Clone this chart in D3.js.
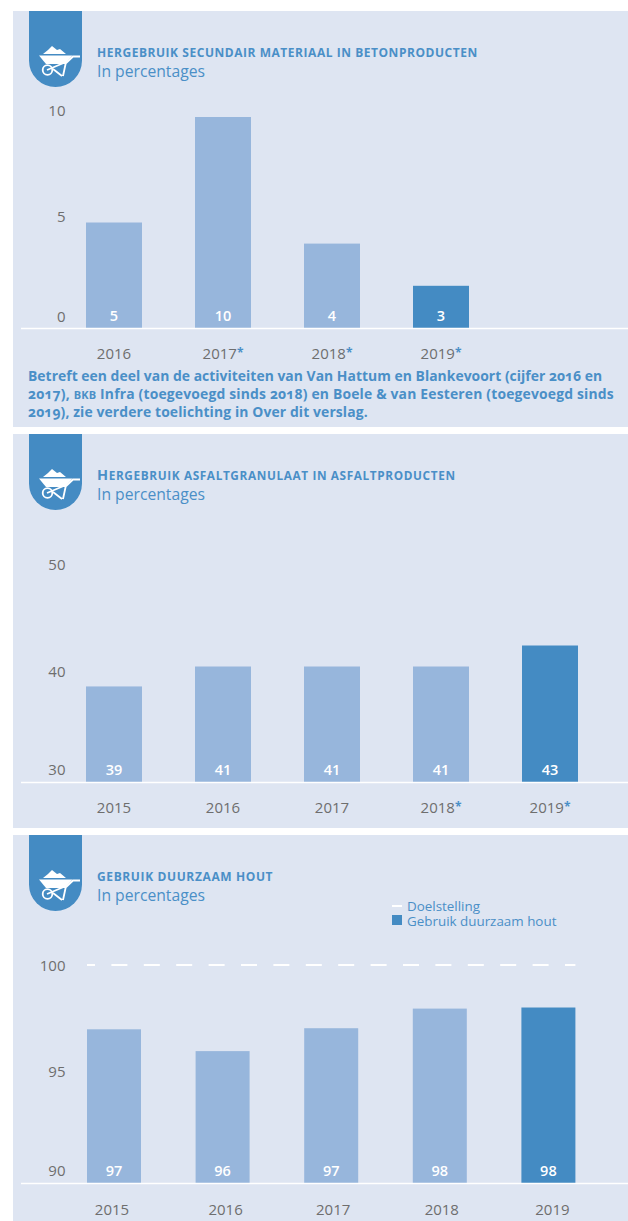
<!DOCTYPE html>
<html>
<head>
<meta charset="utf-8">
<script src="https://cdn.jsdelivr.net/npm/d3@7"></script>
<style>
  body { margin: 0; background: #fff; }
  svg { display: block; }
  text { font-family: "Open Sans", "Noto Sans", sans-serif; }
</style>
</head>
<body>
<div id="chart"></div>
<script>
// chart data
var subtitle = "In percentages";

var years1 = ["2016", "2017*", "2018*", "2019*"];
var bars1 = [5, 10, 4, 2];          // drawn height, the 2019 bar is lower than its label
var labels1 = ["5", "10", "4", "3"];
var ticks1 = [0, 5, 10];

var years2 = ["2015", "2016", "2017", "2018*", "2019*"];
var bars2 = [39.1, 41, 41, 41, 43];
var labels2 = ["39", "41", "41", "41", "43"];
var ticks2 = [30, 40, 50];

var years3 = ["2015", "2016", "2017", "2018", "2019"];
var bars3 = [97.05, 96.05, 97.1, 98, 98.05];
var labels3 = ["97", "96", "97", "98", "98"];
var ticks3 = [90, 95, 100];
var target3 = 100;
var legend3 = ["Doelstelling", "Gebruik duurzaam hout"];

var footnote = [
    [["Betreft een deel van de activiteiten van Van Hattum en Blankevoort (cijfer ", 0], ["2016", 1], [" en", 0]],
    [["2017", 1], ["), ", 0], ["BKB", 2], [" Infra (toegevoegd sinds ", 0], ["2018", 1], [") en Boele & van Eesteren (toegevoegd sinds", 0]],
    [["2019", 1], ["), zie verdere toelichting in Over dit verslag.", 0]]
];
var footnoteSpacing = [0.03, 0.18, 0.12];

// colours
var panelFill = "#dee5f2";
var lightBar = "#97b6dc";
var darkBar = "#448bc3";
var blueText = "#4a8fc7";
var greyText = "#6e6e6e";

var svg = d3.select("#chart")
    .append("svg")
    .attr("width", 628)
    .attr("height", 1221);

// wheelbarrow badge, drawn relative to the top of the panel
function drawBadge(top) {
    var g = svg.append("g").attr("transform", `translate(29, ${top})`);
    g.append("path")
        .attr("d", "M0,0 H53 V49.5 A26.5,26.5 0 0 1 0,49.5 Z")
        .attr("fill", darkBar);
    var w = g.append("g").attr("transform", "translate(0, -11)");
    w.append("path")
        .attr("d", "M14,54 L19,50 L23,46 L28,50 L31,49 L37,54 Z")
        .attr("fill", "#fff");
    w.append("path")
        .attr("d", "M10,55.5 H43.5 L36,64 H17 Z")
        .attr("fill", "#fff");
    w.append("path")
        .attr("d", "M18,70 L37,62 M37,62 L34,76 M24,69 L33,76 M36,64 L44,56.5 H51")
        .attr("fill", "none")
        .attr("stroke", "#fff")
        .attr("stroke-width", 1.8);
    w.append("circle")
        .attr("cx", 18.5).attr("cy", 70).attr("r", 4.8)
        .attr("fill", "none")
        .attr("stroke", "#fff")
        .attr("stroke-width", 1.8);
}

function drawChart(c) {
    svg.append("rect")
        .attr("x", 13)
        .attr("y", c.top)
        .attr("width", 615)
        .attr("height", c.bottom - c.top)
        .attr("fill", panelFill);

    drawBadge(c.top);

    var xScale = d3.scaleBand()
        .domain(c.years)
        .range([c.left, c.left + c.step * c.years.length - (c.step - c.barWidth)])
        .paddingInner((c.step - c.barWidth) / c.step)
        .paddingOuter(0);

    var yScale = d3.scaleLinear()
        .domain(c.domain)
        .range(c.yRange);

    var base = c.yRange[0];

    // bars, last one is the dark one
    svg.selectAll(null)
        .data(c.bars)
        .enter()
        .append("rect")
        .attr("x", (d, i) => xScale(c.years[i]))
        .attr("y", d => yScale(d))
        .attr("width", xScale.bandwidth())
        .attr("height", d => base - yScale(d))
        .attr("fill", (d, i) => i === c.bars.length - 1 ? darkBar : lightBar);

    // white baseline
    svg.append("line")
        .attr("x1", 21)
        .attr("x2", 628)
        .attr("y1", base + 0.5)
        .attr("y2", base + 0.5)
        .attr("stroke", "#fff")
        .attr("stroke-width", 1.4);

    // value labels inside the bars
    svg.selectAll(null)
        .data(c.labels)
        .enter()
        .append("text")
        .attr("x", (d, i) => xScale(c.years[i]) + xScale.bandwidth() / 2)
        .attr("y", base - 12)
        .attr("dy", "0.36em")
        .attr("text-anchor", "middle")
        .attr("fill", "#fff")
        .attr("font-size", 14.5)
        .attr("font-weight", 600)
        .text(d => d);

    // left axis, the labels sit a bit above their value in the original
    var leftAxis = svg.append("g")
        .attr("transform", "translate(65.5, 0)")
        .call(d3.axisLeft(yScale).tickValues(c.ticks).tickSize(0).tickPadding(0));
    leftAxis.select(".domain").remove();
    leftAxis.selectAll("text")
        .attr("font-size", 15)
        .attr("fill", greyText)
        .attr("font-family", null)
        .attr("transform", (d, i) => `translate(0, ${c.tickShift[i]})`);

    // bottom axis
    var bottomAxis = svg.append("g")
        .attr("transform", `translate(0, ${c.yearY})`)
        .call(d3.axisBottom(xScale).tickSize(0).tickPadding(0).tickFormat(d => d.replace("*", "")));
    bottomAxis.select(".domain").remove();
    bottomAxis.selectAll("text")
        .attr("font-size", 15)
        .attr("fill", greyText)
        .attr("dy", "0.36em")
        .attr("y", 0)
        .attr("font-family", null)
        .attr("dx", (d, i) => c.yearShift ? c.yearShift[i] : 0)
        .filter(d => d.indexOf("*") >= 0)
        .append("tspan")
        .attr("fill", blueText)
        .attr("font-weight", 700)
        .attr("font-size", 12)
        .attr("dy", "-0.2em")
        .text("*");

    // title and subtitle
    var title = svg.append("text")
        .attr("x", 97)
        .attr("y", c.top + 45.5)
        .attr("fill", blueText)
        .attr("font-weight", 700)
        .attr("letter-spacing", c.titleSpacing);
    c.title.forEach(function (part) {
        title.append("tspan").attr("font-size", part[1]).text(part[0]);
    });

    svg.append("text")
        .attr("x", 97)
        .attr("y", c.top + 66)
        .attr("fill", blueText)
        .attr("font-size", 15.7)
        .text(subtitle);

    return { x: xScale, y: yScale };
}

// panel 1
drawChart({
    top: 11, bottom: 427,
    years: years1, bars: bars1, labels: labels1, ticks: ticks1,
    domain: [0, 10], yRange: [328, 117],
    left: 86, step: 109, barWidth: 56,
    tickShift: [-11, -5.5, -6],
    yearY: 354,
    titleSpacing: 0.54,
    title: [["HERGEBRUIK SECUNDAIR MATERIAAL IN BETONPRODUCTEN", 12]]
});

// footnote under panel 1
svg.append("g").selectAll("text")
    .data(footnote)
    .enter()
    .append("text")
    .attr("x", 28)
    .attr("y", (d, i) => 380.5 + i * 18)
    .attr("fill", blueText)
    .attr("font-weight", 700)
    .attr("font-size", 13.9)
    .attr("letter-spacing", (d, i) => footnoteSpacing[i])
    .each(function (line) {
        var t = d3.select(this);
        line.forEach(function (part) {
            t.append("tspan")
                .attr("font-size", part[1] === 2 ? 11 : null)
                .style("font-feature-settings", part[1] === 1 ? '"onum"' : null)
                .text(part[0]);
        });
    });

// panel 2
drawChart({
    top: 434, bottom: 828,
    years: years2, bars: bars2, labels: labels2, ticks: ticks2,
    domain: [30, 50], yRange: [782, 572],
    left: 86, step: 109, barWidth: 56,
    tickShift: [-12, -5, -7],
    yearY: 808,
    titleSpacing: 0.62,
    title: [["H", 14.5], ["ERGEBRUIK ASFALTGRANULAAT IN ASFALTPRODUCTEN", 11.8]]
});

// panel 3
var chart3 = drawChart({
    top: 835, bottom: 1221,
    years: years3, bars: bars3, labels: labels3, ticks: ticks3,
    domain: [90, 100], yRange: [1183, 965],
    left: 87, step: 108.6, barWidth: 54,
    tickShift: [-12, -2, 1],
    yearY: 1210,
    yearShift: [-2, 3, 2, 2, 4],
    titleSpacing: 0.62,
    title: [["GEBRUIK DUURZAAM HOUT", 12]]
});

// dashed target line
svg.append("line")
    .attr("x1", chart3.x.range()[0])
    .attr("x2", chart3.x.range()[1])
    .attr("y1", chart3.y(target3))
    .attr("y2", chart3.y(target3))
    .attr("stroke", "#fff")
    .attr("stroke-width", 2)
    .attr("stroke-dasharray", "16 16.4")
    .attr("stroke-dashoffset", 8);

// legend of panel 3
svg.append("line")
    .attr("x1", 392).attr("x2", 402)
    .attr("y1", 906).attr("y2", 906)
    .attr("stroke", "#fff")
    .attr("stroke-width", 2);
svg.append("rect")
    .attr("x", 392).attr("y", 915)
    .attr("width", 10).attr("height", 10)
    .attr("fill", darkBar);
svg.selectAll(null)
    .data(legend3)
    .enter()
    .append("text")
    .attr("x", 407)
    .attr("y", (d, i) => 906 + i * 15)
    .attr("dy", "0.36em")
    .attr("fill", blueText)
    .attr("font-size", 13.4)
    .text(d => d);
</script>
</body>
</html>
